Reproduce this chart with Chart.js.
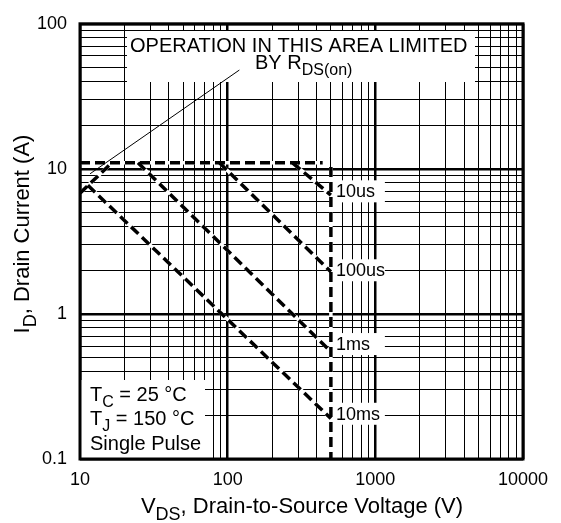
<!DOCTYPE html>
<html>
<head>
<meta charset="utf-8">
<script src="https://cdn.jsdelivr.net/npm/chart.js@4.4.1/dist/chart.umd.min.js"></script>
<style>
  html, body { margin: 0; padding: 0; background: #fff; }
  #soa { display: block; }
</style>
</head>
<body>
<canvas id="soa" width="561" height="523"></canvas>
<script>
const FONT = '"Liberation Sans", Arial, sans-serif';

// axis decades + tick labels
const xDecades = [10, 100, 1000, 10000];
const yDecades = [0.1, 1, 10, 100];
const xTickLabels = ['10', '100', '1000', '10000'];
const yTickLabels = ['0.1', '1', '10', '100'];

// SOA curves (V, A)
const limitV = [10, 440];      const limitI = [11, 11];
const rdsV = [10, 16.4];       const rdsI = [6.8, 11];
const us10V = [275, 500];      const us10I = [11, 6.6];
const us100V = [88, 500];      const us100I = [11, 1.95];
const ms1V = [24.7, 500];      const ms1I = [11, 0.55];
const ms10V = [11.3, 500];     const ms10I = [7.7, 0.19];
const edgeV = [500, 500];      const edgeI = [10.3, 0.1];
const leaderV = [11.7, 120];   const leaderI = [9.25, 48];

// pulse width labels at the 500 V edge
const pulseLabels = ['10us', '100us', '1ms', '10ms'];
const pulseLabelI = [7.0, 2.0, 0.62, 0.205];

function gridValues(decades) {
  const out = [];
  decades.forEach((d, i) => {
    if (i === decades.length - 1) { out.push(d); return; }
    for (let k = 1; k < 10; k++) out.push(+(d * k).toPrecision(3));
  });
  return out;
}

function isDecade(v) {
  if (!v) return false;
  const l = Math.log10(v);
  return Math.abs(l - Math.round(l)) < 1e-6;
}

function pairs(xs, ys) {
  return xs.map((x, i) => ({ x, y: ys[i] }));
}

// black dashes on a white under-stroke, so the gaps blank out the grid
function dashedCurve(xs, ys) {
  return [
    { data: pairs(xs, ys), borderColor: '#fff', borderWidth: 3.5, order: 2 },
    { data: pairs(xs, ys), borderColor: '#000', borderWidth: 3.5, borderDash: [10, 5], order: 1 }
  ];
}

// text with subscript runs: [[text, isSub], ...]
function runsWidth(ctx, runs, size) {
  let w = 0;
  runs.forEach(([t, sub]) => {
    ctx.font = `${sub ? Math.round(size * 0.8) : size}px ${FONT}`;
    w += ctx.measureText(t).width;
  });
  return w;
}
function drawRuns(ctx, runs, x, y, size) {
  let cx = x;
  runs.forEach(([t, sub]) => {
    ctx.font = `${sub ? Math.round(size * 0.8) : size}px ${FONT}`;
    ctx.fillText(t, cx, sub ? y + size * 0.3 : y);
    cx += ctx.measureText(t).width;
  });
}

const overlay = {
  id: 'overlay',
  beforeDatasetsDraw(chart) {
    const { ctx, chartArea: a, scales: { x, y } } = chart;
    ctx.save();
    ctx.fillStyle = '#fff';
    // note box, conditions box, pulse label boxes
    ctx.fillRect(127, 31, 348, 51);
    ctx.fillRect(a.left, 380, 125, a.bottom - 380);
    const bx = x.getPixelForValue(500) + 1;
    pulseLabelI.forEach(v => {
      ctx.fillRect(bx, y.getPixelForValue(v) - 11, 53, 22);
    });
    ctx.restore();
  },
  afterDatasetsDraw(chart) {
    const { ctx, chartArea: a, scales: { x, y } } = chart;
    ctx.save();
    ctx.fillStyle = '#000';
    ctx.textBaseline = 'alphabetic';
    ctx.textAlign = 'left';

    drawRuns(ctx, [['OPERATION IN THIS AREA LIMITED', false]], 130, 52, 20);
    drawRuns(ctx, [['BY R', false], ['DS(on)', true]], 255, 69, 20);

    drawRuns(ctx, [['T', false], ['C', true], [' = 25 \u00B0C', false]], 90, 401, 20);
    drawRuns(ctx, [['T', false], ['J', true], [' = 150 \u00B0C', false]], 90, 425, 20);
    drawRuns(ctx, [['Single Pulse', false]], 90, 450, 20);

    ctx.font = `18px ${FONT}`;
    ctx.textBaseline = 'middle';
    const tx = x.getPixelForValue(500) + 5;
    pulseLabels.forEach((t, i) => ctx.fillText(t, tx, y.getPixelForValue(pulseLabelI[i]) + 1));

    // plot frame
    ctx.lineWidth = 3;
    ctx.strokeStyle = '#000';
    ctx.strokeRect(a.left, a.top, a.right - a.left, a.bottom - a.top);

    // axis titles
    ctx.textBaseline = 'alphabetic';
    const xt = [['V', false], ['DS', true], [', Drain-to-Source Voltage (V)', false]];
    drawRuns(ctx, xt, 302 - runsWidth(ctx, xt, 22) / 2, 513, 22);

    const yt = [['I', false], ['D', true], [', Drain Current (A)', false]];
    ctx.translate(29, 234);
    ctx.rotate(-Math.PI / 2);
    drawRuns(ctx, yt, -runsWidth(ctx, yt, 22) / 2, 0, 22);
    ctx.restore();
  }
};

const datasets = [
  ...dashedCurve(limitV, limitI),
  ...dashedCurve(rdsV, rdsI),
  ...dashedCurve(us10V, us10I),
  ...dashedCurve(us100V, us100I),
  ...dashedCurve(ms1V, ms1I),
  ...dashedCurve(ms10V, ms10I),
  ...dashedCurve(edgeV, edgeI),
  { data: pairs(leaderV, leaderI), borderColor: '#000', borderWidth: 1, order: 0 }
];

function logAxis(decades, labels, extra) {
  return Object.assign({
    type: 'logarithmic',
    min: decades[0],
    max: decades[decades.length - 1],
    afterBuildTicks: s => { s.ticks = gridValues(decades).map(v => ({ value: v })); },
    ticks: {
      autoSkip: false,
      maxRotation: 0,
      minRotation: 0,
      color: '#000',
      font: { family: FONT, size: 18 },
      callback: v => {
        const i = decades.findIndex(d => Math.abs(d - v) < d * 1e-6);
        return i >= 0 ? labels[i] : '';
      }
    },
    grid: {
      color: '#000',
      drawTicks: false,
      lineWidth: c => (c.tick && isDecade(c.tick.value)) ? 2.5 : 1
    },
    border: { display: false }
  }, extra);
}

const xAxis = logAxis(xDecades, xTickLabels, { position: 'bottom', afterFit: s => { s.height = 64; } });
xAxis.ticks.padding = 10;
const yAxis = logAxis(yDecades, yTickLabels, { position: 'left', afterFit: s => { s.width = 80; } });
yAxis.ticks.padding = 13;

new Chart(document.getElementById('soa'), {
  type: 'scatter',
  data: { datasets: datasets.map(d => Object.assign({ showLine: true, pointRadius: 0, fill: false, tension: 0 }, d)) },
  options: {
    responsive: false,
    animation: false,
    layout: { padding: { top: 15, right: 38, left: 0, bottom: 0 } },
    plugins: {
      legend: { display: false },
      tooltip: { enabled: false }
    },
    scales: { x: xAxis, y: yAxis }
  },
  plugins: [overlay]
});
</script>
</body>
</html>
